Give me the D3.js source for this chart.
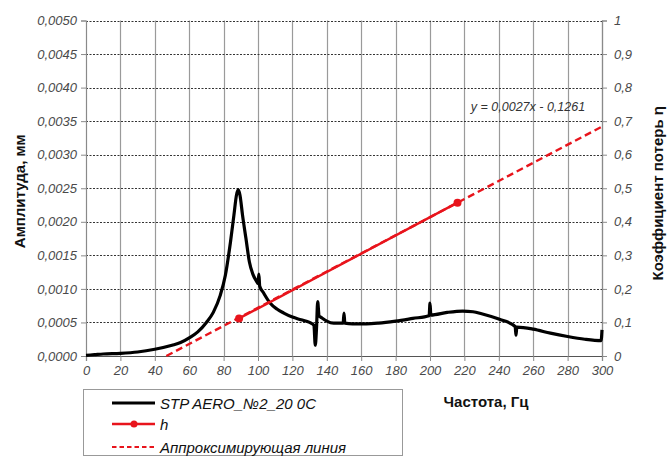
<!DOCTYPE html>
<html>
<head>
<meta charset="utf-8">
<script src="https://cdn.jsdelivr.net/npm/d3@7"></script>
<style>
  html, body { margin: 0; padding: 0; background: #fff; }
  svg { display: block; font-family: "Liberation Sans", Arial, sans-serif; }
</style>
</head>
<body>
<svg id="chart" width="668" height="457"></svg>
<script>
// Frequency response, Гц
const freq = [0, 5, 10, 20, 30, 40, 50, 55, 60, 65, 70, 74, 78, 81, 84, 86, 87.5, 88.5, 89.5, 91, 93, 95, 97, 99, 100, 100.5, 101, 103, 107, 111, 115, 120, 125, 130, 132.5, 133.3, 134, 134.7, 135.5, 137, 140, 144, 149.5, 150, 150.5, 155, 163, 170, 180, 190, 199.5, 200, 200.5, 210, 219, 225, 230, 240, 249.5, 250, 250.5, 260, 270, 280, 290, 299.5, 300];
// Amplitude, мм
const amplitude = [0.00001, 0.00002, 0.00003, 0.00004, 0.00006, 0.0001, 0.00016, 0.0002, 0.00027, 0.00036, 0.0005, 0.00065, 0.0009, 0.0012, 0.0017, 0.0021, 0.0024, 0.00248, 0.0024, 0.0021, 0.00175, 0.0014, 0.00122, 0.00112, 0.00108, 0.00122, 0.00104, 0.00095, 0.00079, 0.0007, 0.00064, 0.00058, 0.00054, 0.0005, 0.00046, 0.00016, 0.0004, 0.00081, 0.0006, 0.00057, 0.00052, 0.00049, 0.00049, 0.00064, 0.00049, 0.00048, 0.00048, 0.00049, 0.00052, 0.00056, 0.0006, 0.00079, 0.00061, 0.00065, 0.00067, 0.00066, 0.00063, 0.00055, 0.00044, 0.00031, 0.00043, 0.0004, 0.00034, 0.00029, 0.00025, 0.00023, 0.00039];

// Loss factor η measured at two resonance frequencies
const lossFreq = [89, 216];
const lossValue = [0.112, 0.457];

// Linear approximation y = 0,0027x - 0,1261
const trendSlope = 0.0027;
const trendIntercept = -0.1261;

const xTicks = d3.range(0, 301, 20);
const yLeftTicks = d3.range(0, 0.00501, 0.0005);
const yRightTicks = d3.range(0, 1.001, 0.1);

const seriesNames = ["STP AERO_№2_20 0C", "h", "Аппроксимирующая линия"];

const svg = d3.select("#chart");
const plotLeft = 86, plotRight = 602, plotTop = 20.5, plotBottom = 356;

const x = d3.scaleLinear().domain([0, 300]).range([plotLeft, plotRight]);
const yL = d3.scaleLinear().domain([0, 0.005]).range([plotBottom, plotTop]);
const yR = d3.scaleLinear().domain([0, 1]).range([plotBottom, plotTop]);

const RED = "#e8141c";
const labelColor = "#4a4a4a";

// vertical grid
svg.append("g").selectAll("line").data(xTicks.slice(1)).join("line")
  .attr("x1", d => Math.round(x(d)) + 0.5).attr("x2", d => Math.round(x(d)) + 0.5)
  .attr("y1", plotTop).attr("y2", plotBottom)
  .attr("stroke", "#9a9a9a").attr("stroke-width", 1.2);

// horizontal dotted grid
svg.append("g").selectAll("line").data(yLeftTicks.slice(1)).join("line")
  .attr("x1", plotLeft).attr("x2", plotRight)
  .attr("y1", d => Math.round(yL(d)) + 0.5).attr("y2", d => Math.round(yL(d)) + 0.5)
  .attr("stroke", "#333").attr("stroke-width", 1)
  .attr("stroke-dasharray", "2,1.5");

// axes
const fmtL = d => d3.format(".4f")(d).replace(".", ",");
const fmtR = d => (Math.abs(d - 1) < 1e-9 ? "1" : (d === 0 ? "0" : d3.format(".1f")(d).replace(".", ",")));

const axL = svg.append("g").attr("transform", `translate(${plotLeft},0)`)
  .call(d3.axisLeft(yL).tickValues(yLeftTicks).tickFormat(fmtL).tickSize(5).tickPadding(4));
const axR = svg.append("g").attr("transform", `translate(${plotRight},0)`)
  .call(d3.axisRight(yR).tickValues(yRightTicks).tickFormat(fmtR).tickSize(5).tickPadding(7));
const axB = svg.append("g").attr("transform", `translate(0,${plotBottom})`)
  .call(d3.axisBottom(x).tickValues(xTicks).tickFormat(d3.format("d")).tickSize(5).tickPadding(5));

[axL, axR, axB].forEach(g => {
  g.select(".domain").attr("stroke", "#8a8a8a").attr("stroke-width", 1.2);
  g.selectAll(".tick line").attr("stroke", "#8a8a8a");
  g.selectAll(".tick text")
    .attr("fill", labelColor)
    .style("font-size", "13px")
    .style("font-style", "italic")
    .style("font-family", "'Liberation Sans', Arial, sans-serif");
});
axB.select(".domain").attr("stroke", "#555");

// amplitude curve
const line = d3.line().x((d, i) => x(freq[i])).y(d => yL(d)).curve(d3.curveMonotoneX);
svg.append("path").datum(amplitude)
  .attr("d", line)
  .attr("fill", "none").attr("stroke", "#000")
  .attr("stroke-width", 3.2).attr("stroke-linejoin", "round");

// trend line across the frequency range where it is non-negative
const trendStart = -trendIntercept / trendSlope;
const trendX = [trendStart, 300];
svg.append("path")
  .datum(trendX)
  .attr("d", d3.line().x(d => x(d)).y(d => yR(trendSlope * d + trendIntercept)))
  .attr("fill", "none").attr("stroke", RED).attr("stroke-width", 2.4)
  .attr("stroke-dasharray", "7,4");

// loss factor series
svg.append("path").datum(lossValue)
  .attr("d", d3.line().x((d, i) => x(lossFreq[i])).y(d => yR(d)))
  .attr("fill", "none").attr("stroke", RED).attr("stroke-width", 2.4);
svg.append("g").selectAll("circle").data(lossValue).join("circle")
  .attr("cx", (d, i) => x(lossFreq[i])).attr("cy", d => yR(d))
  .attr("r", 4).attr("fill", RED);

// equation label
svg.append("text")
  .attr("x", 528).attr("y", 110.5)
  .attr("text-anchor", "middle")
  .style("font-size", "12.5px").style("font-style", "italic")
  .attr("fill", "#333")
  .text("y = 0,0027x - 0,1261");

// axis titles
svg.append("text")
  .attr("transform", `translate(25,${(plotTop + plotBottom) / 2 + 3}) rotate(-90)`)
  .attr("text-anchor", "middle")
  .style("font-size", "15px").style("font-weight", "bold")
  .attr("fill", "#111")
  .text("Амплитуда, мм");
svg.append("text")
  .attr("transform", `translate(663,${(plotTop + plotBottom) / 2 + 5}) rotate(-90)`)
  .attr("text-anchor", "middle")
  .style("font-size", "15px").style("font-weight", "bold")
  .attr("fill", "#111")
  .text("Коэффициент потерь η");
svg.append("text")
  .attr("x", 486).attr("y", 407)
  .attr("text-anchor", "middle")
  .style("font-size", "15px").style("font-weight", "bold")
  .attr("fill", "#111")
  .text("Частота, Гц");

// legend
const lg = svg.append("g");
lg.append("rect").attr("x", 83.5).attr("y", 389.5).attr("width", 319).attr("height", 66)
  .attr("fill", "#fff").attr("stroke", "#999").attr("stroke-width", 1);
const rowsY = [403, 424, 447];
const styles = [
  { stroke: "#000", width: 3, dash: null, dot: false },
  { stroke: RED, width: 2.4, dash: null, dot: true },
  { stroke: RED, width: 2, dash: "4.5,3", dot: false }
];
seriesNames.forEach((name, i) => {
  const s = styles[i];
  lg.append("line").attr("x1", 112).attr("x2", 155).attr("y1", rowsY[i]).attr("y2", rowsY[i])
    .attr("stroke", s.stroke).attr("stroke-width", s.width)
    .attr("stroke-dasharray", s.dash);
  if (s.dot) lg.append("circle").attr("cx", 134).attr("cy", rowsY[i]).attr("r", 3.5).attr("fill", RED);
  lg.append("text").attr("x", 160).attr("y", rowsY[i] + 5.5)
    .style("font-size", "15px").style("font-style", "italic")
    .attr("fill", "#111")
    .text(name);
});
</script>
</body>
</html>
